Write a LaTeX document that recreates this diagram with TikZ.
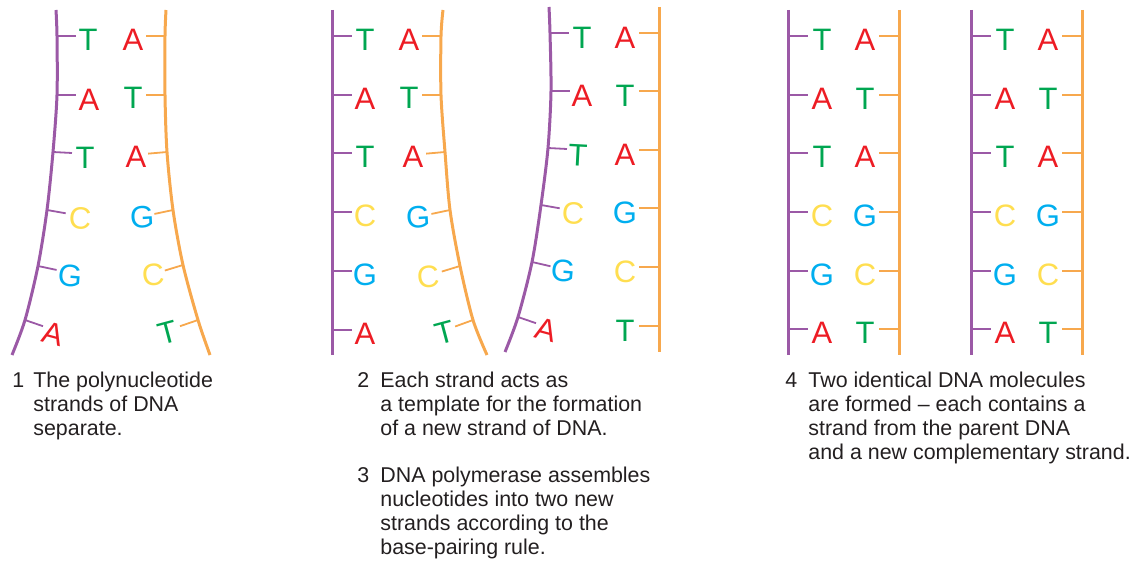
\documentclass[tikz,border=0pt]{standalone}
\usepackage{fontspec}
\setmainfont{Liberation Sans}

\definecolor{strandP}{RGB}{155,89,166}
\definecolor{strandO}{RGB}{247,168,77}
\definecolor{nucA}{RGB}{237,28,36}
\definecolor{nucT}{RGB}{0,166,81}
\definecolor{nucC}{RGB}{255,222,80}
\definecolor{nucG}{RGB}{0,174,239}
\definecolor{captext}{RGB}{35,31,32}

\tikzset{
  pstrand/.style={draw=strandP, line width=1.5pt},
  ostrand/.style={draw=strandO, line width=1.5pt},
  ptick/.style={draw=strandP, line width=0.9pt},
  otick/.style={draw=strandO, line width=0.9pt},
  nuc/.style={inner sep=0pt, font=\fontsize{15.5}{15.5}\selectfont},
  stepnum/.style={inner sep=0pt, anchor=north west, text=captext,
    font=\fontsize{10.7}{12}\selectfont},
  steptext/.style={stepnum, align=left},
}

\begin{document}
\begin{tikzpicture}[x=0.5pt,y=-0.5pt]
\useasboundingbox (0,0) rectangle (1145,561);

% 1: strands come apart
\draw[pstrand] plot[smooth] coordinates {(56,10) (57,36) (57,95) (53,152) (47,210) (38,266) (25,320) (12,355)};
\draw[ostrand] plot[smooth] coordinates {(166,10) (165,36) (165,95) (167,152) (173,210) (183,265) (198,320) (210,355)};
\foreach \x/\y/\a/\l/\lx/\ly/\r [count=\i] in {57/36/0/T/88/40/0, 57/95/0/A/89/100/0,
    53/152/3/T/85/158/0, 47/210/10/C/80/218/-3, 38/266/12/G/70/276/-5, 25/320/19/A/53/334/-15}{
  \draw[ptick] (\x,\y) -- ++(\a:19);
  \node[nuc, text=nuc\l, rotate=\r] (sa-\i) at (\lx,\ly) {\l};
}
\foreach \x/\y/\a/\l/\lx/\ly/\r [count=\i] in {165/36/180/A/133/40/0, 165/95/180/T/133/98/0,
    167/152/175/A/136/157/0, 173/210/168/G/142/217/3, 183/265/163/C/153/275/5, 198/320/161/T/168/333/15}{
  \draw[otick] (\x,\y) -- ++(\a:19);
  \node[nuc, text=nuc\l, rotate=\r] (sb-\i) at (\lx,\ly) {\l};
}

% 2+3: each old strand gets a new partner
\draw[pstrand] (332,10) -- (332,355);
\foreach \y/\l [count=\i] in {36/T, 95/A, 153/T, 212/C, 271/G, 330/A}{
  \draw[ptick] (332,\y) -- ++(20,0);
  \node[nuc, text=nuc\l] (ta-\i) at (365,\y+4) {\l};
}
\draw[ostrand] plot[smooth] coordinates {(443,10) (441,36) (441,95) (445,152) (450,210) (460,266) (473,320) (487,355)};
\foreach \x/\y/\a/\l/\lx/\ly/\r [count=\i] in {441/36/180/A/409/40/0, 441/95/180/T/409/98/0,
    445/152/175/A/413/157/0, 450/210/168/G/418/217/3, 460/266/163/C/428/277/5, 473/320/160/T/445/333/15}{
  \draw[otick] (\x,\y) -- ++(\a:19);
  \node[nuc, text=nuc\l, rotate=\r] (tb-\i) at (\lx,\ly) {\l};
}
\draw[pstrand] plot[smooth] coordinates {(549,7) (550,33) (551,91) (548,148) (541,205) (532,262) (518,317) (505,352)};
\foreach \x/\y/\a/\l/\lx/\ly/\r [count=\i] in {550/33/0/T/582/38/0, 551/91/0/A/582/96/0,
    548/148/3/T/578/155/-3, 541/205/10/C/573/213/-3, 532/262/13/G/563/271/-5, 518/317/19/A/546/330/-15}{
  \draw[ptick] (\x,\y) -- ++(\a:19);
  \node[nuc, text=nuc\l, rotate=\r] (tc-\i) at (\lx,\ly) {\l};
}
\draw[ostrand] (659,7) -- (659,352);
\foreach \y/\l [count=\i] in {33/A, 91/T, 150/A, 208/G, 267/C, 326/T}{
  \draw[otick] (659,\y) -- ++(-20,0);
  \node[nuc, text=nuc\l] (td-\i) at (625,\y+5) {\l};
}

% 4: two daughter molecules
\foreach \dx/\m in {0/a, 183/b}{
  \draw[pstrand] (788+\dx,10) -- (788+\dx,355);
  \draw[ostrand] (899+\dx,10) -- (899+\dx,355);
  \foreach \y/\l/\r [count=\i] in {36/T/A, 95/A/T, 153/T/A, 212/C/G, 271/G/C, 329/A/T}{
    \draw[ptick] (788+\dx,\y) -- ++(20,0);
    \draw[otick] (899+\dx,\y) -- ++(-20,0);
    \node[nuc, text=nuc\l] (d\m-l\i) at (822+\dx,\y+4) {\l};
    \node[nuc, text=nuc\r] (d\m-r\i) at (865+\dx,\y+4) {\r};
  }
}

% captions
\node[stepnum] (n1) at (12,372) {1};
\node[steptext] (t1) at (33,372) {The polynucleotide\\strands of DNA\\separate.};
\node[stepnum] (n2) at (357,372) {2};
\node[steptext] (t2) at (380,372) {Each strand acts as\\a template for the formation\\of a new strand of DNA.};
\node[stepnum] (n3) at (357,467) {3};
\node[steptext] (t3) at (380,467) {DNA polymerase assembles\\nucleotides into two new\\strands according to the\\base-pairing rule.};
\node[stepnum] (n4) at (785,372) {4};
\node[steptext] (t4) at (808,372) {Two identical DNA molecules\\are formed – each contains a\\strand from the parent DNA\\and a new complementary strand.};

\end{tikzpicture}
\end{document}
